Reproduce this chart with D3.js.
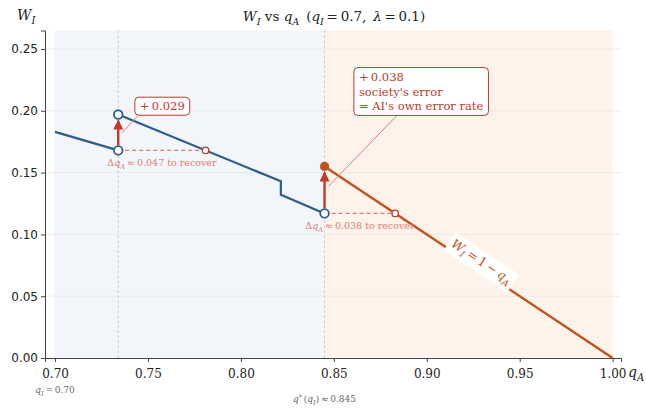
<!DOCTYPE html>
<html>
<head>
<meta charset="utf-8">
<script src="https://cdn.jsdelivr.net/npm/d3@7"></script>
<style>
  body { margin: 0; background: #fff; }
  svg { display: block; }
</style>
</head>
<body>
<script>
'use strict';

// welfare curve pieces (q_A, W_I)
const humanSeg1Q = [0.700, 0.734];
const humanSeg1W = [0.183, 0.168];
const humanSeg2Q = [0.734, 0.8215, 0.8215, 0.845];
const humanSeg2W = [0.197, 0.143, 0.132, 0.117];
const aiQ = [0.845, 1.0];
const aiW = [0.155, 0.0];

// jumps: q, from W, to W, label
const jumpQ = [0.734, 0.845];
const jumpFrom = [0.168, 0.117];
const jumpTo = [0.197, 0.155];
const jumpLabel = ["+\u20090.029", "+\u20090.038"];
// recovery points
const recoverQ = [0.781, 0.883];
const recoverLabel = ["0.047", "0.038"];

const qStar = 0.845;
const qI = 0.70;
const xTicks = [0.70, 0.75, 0.80, 0.85, 0.90, 0.95, 1.00];
const yTicks = [0.00, 0.05, 0.10, 0.15, 0.20, 0.25];

const W = 646, H = 408;
const blue = '#2c5d8a', orange = '#c0531b', red = '#c0392b', lightRed = '#e07b72';

const svg = d3.select('body').append('svg')
  .attr('width', W).attr('height', H)
  .style('font-family', '"DejaVu Serif", serif');

const x = d3.scaleLinear().domain([0.6946, 1.0045]).range([45, 621]);
const y = d3.scaleLinear().domain([0, 0.265]).range([358, 30.5]);

// write text with italic / subscript parts, shifting baseline back on the next part
function mathText(sel, parts, size) {
  let back = 0;
  parts.forEach(p => {
    const t = sel.append('tspan').text(p[0]);
    let dy = back;
    back = 0;
    if (p[1] === 'i' || p[1] === 'si') t.style('font-style', 'italic');
    if (p[1] === 'si' || p[1] === 's') {
      dy += size * 0.28; back = -size * 0.28;
      t.style('font-size', (size * 0.72) + 'px');
    }
    if (p[1] === 'sup') {
      dy -= size * 0.35; back = size * 0.35;
      t.style('font-size', (size * 0.72) + 'px');
    }
    if (dy) t.attr('dy', dy);
  });
  return sel;
}

// regime shading
svg.append('rect')
  .attr('x', x(0.6996)).attr('y', y(0.265))
  .attr('width', x(qStar) - x(0.6996)).attr('height', y(0) - y(0.265))
  .attr('fill', '#f2f6fb');
svg.append('rect')
  .attr('x', x(qStar)).attr('y', y(0.265))
  .attr('width', x(1.0) - x(qStar)).attr('height', y(0) - y(0.265))
  .attr('fill', '#fdf3ea');

// grid
svg.append('g').selectAll('line').data(yTicks.slice(1)).enter().append('line')
  .attr('x1', x.range()[0]).attr('x2', x.range()[1])
  .attr('y1', d => y(d)).attr('y2', d => y(d))
  .attr('stroke', '#e6e6e6').attr('stroke-width', 0.8);

// vertical reference lines
svg.append('g').selectAll('line').data([jumpQ[0], qStar]).enter().append('line')
  .attr('x1', d => x(d)).attr('x2', d => x(d))
  .attr('y1', y(0.265)).attr('y2', y(0))
  .attr('stroke', '#bbbbbb').attr('stroke-width', 0.8)
  .attr('stroke-dasharray', '2.5,2.5');

// axes
const xAxis = svg.append('g')
  .attr('transform', `translate(0,${y(0)})`)
  .call(d3.axisBottom(x).tickValues(xTicks).tickFormat(d3.format('.2f')).tickSizeOuter(0).tickSize(4));
xAxis.attr('font-family', null);
xAxis.selectAll('text').style('font-family', '"DejaVu Serif", serif').style('font-size', '12px')
  .attr('fill', '#222').attr('dy', '1.05em');
const yAxis = svg.append('g')
  .attr('transform', `translate(${x.range()[0]},0)`)
  .call(d3.axisLeft(y).tickValues(yTicks).tickFormat(d3.format('.2f')).tickSizeOuter(0).tickSize(4));
yAxis.selectAll('text').style('font-family', '"DejaVu Sans", sans-serif').style('font-size', '12px')
  .attr('fill', '#222');
[xAxis, yAxis].forEach(a => {
  a.select('.domain').attr('stroke', '#444');
  a.selectAll('.tick line').attr('stroke', '#444');
});

const line = d3.line().x(d => x(d[0])).y(d => y(d[1]));

// AI line W = 1 - q_A with label box
const ang = Math.atan2(y(aiW[1]) - y(aiW[0]), x(aiQ[1]) - x(aiQ[0])) * 180 / Math.PI;
const labQ = 0.9272, labW = 1 - labQ;
const labG = svg.append('g')
  .attr('transform', `translate(${x(labQ)},${y(labW)}) rotate(${ang}) translate(0,-8)`);
const labBg = labG.append('rect').attr('fill', '#fff');
const labT = labG.append('text').attr('text-anchor', 'middle').attr('dy', '0.35em')
  .attr('fill', orange).style('font-size', '12.5px');
mathText(labT, [['W', 'i'], ['I', 'si'], ['\u2009=\u20091\u2009\u2212\u2009', 'n'], ['q', 'i'], ['A', 'si']], 12.5);

svg.append('path').datum(d3.zip(aiQ, aiW)).attr('d', line)
  .attr('fill', 'none').attr('stroke', orange).attr('stroke-width', 2.4);

const lb = labT.node().getBBox();
labBg.attr('x', lb.x - 3).attr('y', lb.y - 2).attr('width', lb.width + 6).attr('height', lb.height + 4);
labG.raise();

// human-regime line
[[humanSeg1Q, humanSeg1W], [humanSeg2Q, humanSeg2W]].forEach(s => {
  svg.append('path').datum(d3.zip(s[0], s[1])).attr('d', line)
    .attr('fill', 'none').attr('stroke', blue).attr('stroke-width', 2.2)
    .attr('stroke-linejoin', 'miter');
});

// recovery dashed lines
jumpQ.forEach((q, i) => {
  svg.append('line')
    .attr('x1', x(q)).attr('x2', x(recoverQ[i]))
    .attr('y1', y(jumpFrom[i])).attr('y2', y(jumpFrom[i]))
    .attr('stroke', lightRed).attr('stroke-width', 1.1).attr('stroke-dasharray', '4,3');
  svg.append('circle').attr('cx', x(recoverQ[i])).attr('cy', y(jumpFrom[i])).attr('r', 3.2)
    .attr('fill', '#fff').attr('stroke', red).attr('stroke-width', 1.3);
  const t = svg.append('text').attr('x', (x(q) + x(recoverQ[i])) / 2)
    .attr('y', y(jumpFrom[i]) + 16).attr('text-anchor', 'middle')
    .attr('fill', lightRed).style('font-size', '9.5px');
  mathText(t, [['\u0394', 'n'], ['q', 'i'], ['A', 'si'], ['\u2009\u2248\u2009' + recoverLabel[i] + ' to recover', 'n']], 9.5);
});

// jump arrows
svg.append('defs').append('marker')
  .attr('id', 'head').attr('viewBox', '0 0 10 10').attr('refX', 9).attr('refY', 5)
  .attr('markerWidth', 4.2).attr('markerHeight', 4.2).attr('markerUnits', 'strokeWidth')
  .attr('orient', 'auto')
  .append('path').attr('d', 'M0,0 L10,5 L0,10 z').attr('fill', red);
jumpQ.forEach((q, i) => {
  svg.append('line')
    .attr('x1', x(q)).attr('x2', x(q))
    .attr('y1', y(jumpFrom[i]) - 5).attr('y2', y(jumpTo[i]) + 6)
    .attr('stroke', red).attr('stroke-width', 2.4).attr('marker-end', 'url(#head)');
});

// endpoint markers
[[jumpQ[0], jumpFrom[0]], [jumpQ[0], jumpTo[0]], [jumpQ[1], jumpFrom[1]]].forEach(p => {
  svg.append('circle').attr('cx', x(p[0])).attr('cy', y(p[1])).attr('r', 4.3)
    .attr('fill', '#fff').attr('stroke', blue).attr('stroke-width', 1.8);
});
svg.append('circle').attr('cx', x(jumpQ[1])).attr('cy', y(jumpTo[1])).attr('r', 4.6)
  .attr('fill', orange);

// annotation boxes
function annBox(lines, q, w, anchor, target) {
  const g = svg.append('g');
  const conn = g.append('line');
  const bg = g.append('rect');
  const t = g.append('text').attr('x', x(q)).attr('y', y(w))
    .attr('text-anchor', anchor).attr('fill', red).style('font-size', '11.5px');
  lines.forEach((l, k) => {
    t.append('tspan').attr('x', x(q)).attr('dy', k ? '1.3em' : 0).text(l);
  });
  const b = t.node().getBBox();
  bg.attr('x', b.x - 5).attr('y', b.y - 2).attr('width', b.width + 10).attr('height', b.height + 4)
    .attr('rx', 4).attr('fill', '#fff').attr('stroke', red).attr('stroke-width', 1);
  conn.attr('x1', target.sx).attr('y1', b.y + b.height + 2)
    .attr('x2', x(target.q) + 4).attr('y2', y(target.w))
    .attr('stroke', lightRed).attr('stroke-width', 1);
}
annBox([jumpLabel[0]], 0.7577, 0.2005, 'middle', { sx: x(0.7577) - 24, q: jumpQ[0], w: 0.1825 });
annBox([jumpLabel[1], "society's error", "= AI's own error rate"], 0.8635, 0.2245, 'start',
  { sx: x(0.8635) + 38, q: qStar, w: 0.139 });

// titles and labels
const title = svg.append('text').attr('x', 334).attr('y', 21).attr('text-anchor', 'middle')
  .attr('fill', '#222').style('font-size', '13.5px');
mathText(title, [['W', 'i'], ['I', 'si'], [' vs ', 'n'], ['q', 'i'], ['A', 'si'],
  ['\u2002(', 'n'], ['q', 'i'], ['I', 'si'], ['\u2009=\u20090.7,\u2002', 'n'], ['\u03bb', 'i'], ['\u2009=\u20090.1)', 'n']], 13.5);

const yl = svg.append('text').attr('x', 17).attr('y', 20).attr('fill', '#222').style('font-size', '14px');
mathText(yl, [['W', 'i'], ['I', 'si']], 14);

const xl = svg.append('text').attr('x', 628).attr('y', 377).attr('fill', '#222').style('font-size', '14px');
mathText(xl, [['q', 'i'], ['A', 'si']], 14);

const b1 = svg.append('text').attr('x', x(qI)).attr('y', 393).attr('text-anchor', 'middle')
  .attr('fill', '#666').style('font-size', '9px');
mathText(b1, [['q', 'i'], ['I', 'si'], ['\u2009=\u20090.70', 'n']], 9);
const b2 = svg.append('text').attr('x', x(qStar)).attr('y', 402).attr('text-anchor', 'middle')
  .attr('fill', '#666').style('font-size', '9px');
mathText(b2, [['q', 'i'], ['*', 'sup'], ['\u2009(', 'n'], ['q', 'i'], ['I', 'si'], [')\u2009\u2248\u20090.845', 'n']], 9);
</script>
</body>
</html>
